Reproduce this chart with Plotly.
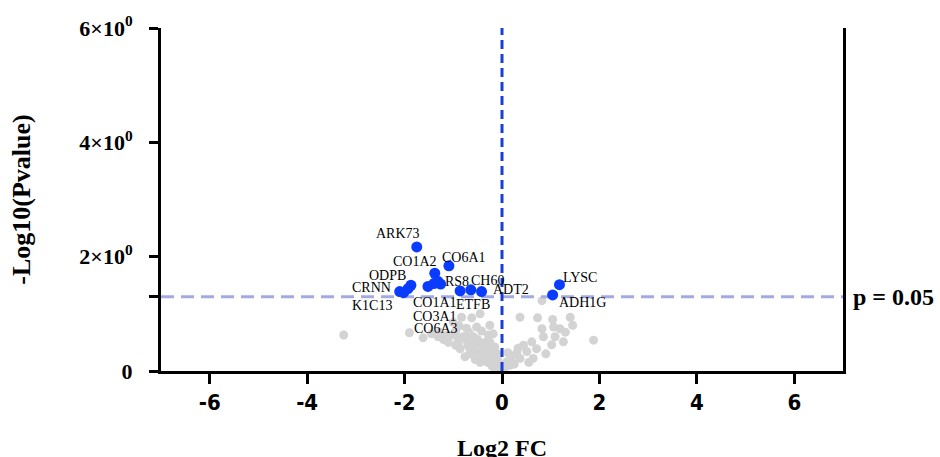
import plotly.graph_objects as go

# ---- data ----
sig_names = ["ARK73", "CO6A1", "CO1A2", "ODPB", "RS8", "CH60", "CRNN", "ADT2",
             "K1C13", "CO1A1", "ETFB", "CO3A1", "CO6A3", "LYSC", "ADH1G", ""]
sig_fc = [-1.75, -1.09, -1.38, -1.87, -1.26, -0.64, -2.10, -0.42,
          -2.02, -1.40, -0.86, -1.52, -1.32, 1.18, 1.04, -1.93]
sig_p = [2.17, 1.84, 1.71, 1.50, 1.52, 1.42, 1.39, 1.39,
         1.37, 1.53, 1.40, 1.48, 1.57, 1.51, 1.33, 1.44]
# label offsets (pixels) relative to their point
label_dx = [-19, 15, -20, -23, 16, 17, -28, 29, -32, 1, 13, 7, -2, 21, 30, 0]
label_dy = [13, 8, 12, 10, 3, 9, 4, 2, -13, -19, -14, -30, -47, 7, -8, 0]

ns_fc = [-3.25, -1.90, -1.62, -1.45, -1.31, -1.28, -1.20, -1.03, -0.95, -0.90,
         -0.88, -0.83, -0.73, -0.73, -0.66, -0.62, -0.59, -0.52, -0.52, -0.45,
         -0.45, -0.86, -0.76, -0.35, -0.31, -0.28, -0.25, -0.25, -0.18, -0.14,
         -0.14, -0.11, -0.04, 0.02, -0.60, -0.55, -0.65, -0.40, -0.38, -0.30,
         -0.20, -0.10, -0.95, -1.10, -0.80, -0.70, -0.50, -0.35, -0.20, -0.08,
         -0.45, -1.00, -0.25, -0.15, -1.15, -0.68, -0.42, -0.90, -0.58,
         0.82, 0.37, 0.73, 1.04, 1.40, 1.45, 1.06, 1.19, 1.30, 0.82,
         0.85, 1.09, 1.26, 1.02, 1.88, 0.61, 0.44, 0.71, 0.51, 0.30,
         0.20, 0.10, 0.64, 0.37, 0.16, 0.05, 0.25, 0.55, 0.90, 0.12, 0.33]
ns_p = [0.63, 0.67, 0.58, 0.65, 0.60, 0.68, 0.55, 0.63, 0.70, 0.57,
        0.79, 0.94, 0.75, 0.54, 0.39, 0.93, 0.60, 0.77, 0.34, 1.00,
        0.48, 0.39, 0.25, 0.31, 0.39, 0.63, 0.22, 0.51, 0.65, 0.13,
        0.25, 0.05, 0.10, 0.02, 0.45, 0.20, 0.30, 0.25, 0.40, 0.15,
        0.35, 0.30, 0.45, 0.50, 0.60, 0.45, 0.55, 0.50, 0.08, 0.18,
        0.15, 0.85, 0.80, 0.42, 0.62, 0.68, 0.70, 0.48, 0.35,
        1.23, 0.94, 0.93, 0.90, 0.94, 0.80, 0.77, 0.74, 0.68, 0.74,
        0.60, 0.60, 0.51, 0.46, 0.54, 0.51, 0.45, 0.39, 0.34, 0.31,
        0.25, 0.16, 0.22, 0.22, 0.10, 0.05, 0.12, 0.15, 0.30, 0.32, 0.40]

p_threshold = 1.301
x_range = [-7, 7]
y_range = [0, 6]
x_ticks = [-6, -4, -2, 0, 2, 4, 6]
x_ticktext = ["-6", "-4", "-2", "0", "2", "4", "6"]
y_tickvals = [0, p_threshold, 2, 4, 6]
y_ticktext = ["0", "", "2×10<sup>0</sup>", "4×10<sup>0</sup>", "6×10<sup>0</sup>"]

serif = "Liberation Serif, Times New Roman, serif"
sans = "DejaVu Sans Condensed, Liberation Sans Narrow, Arial, sans-serif"

fig = go.Figure()
fig.add_trace(go.Scatter(x=ns_fc, y=ns_p, mode="markers", cliponaxis=False,
                         marker=dict(color="#d3d3d3", size=9, line=dict(width=0)),
                         showlegend=False, hoverinfo="skip"))
fig.add_trace(go.Scatter(x=x_range, y=[p_threshold, p_threshold], mode="lines",
                         line=dict(color="#a3aae3", width=3, dash="13px,7px"),
                         showlegend=False, hoverinfo="skip"))
fig.add_trace(go.Scatter(x=[0, 0], y=y_range, mode="lines",
                         line=dict(color="#1a3fd8", width=3, dash="9px,5px"),
                         showlegend=False, hoverinfo="skip"))
fig.add_trace(go.Scatter(x=sig_fc, y=sig_p, mode="markers", cliponaxis=False,
                         marker=dict(color="#0a3cff", size=11, line=dict(width=0)),
                         showlegend=False))

for name, fx, py, dx, dy in zip(sig_names, sig_fc, sig_p, label_dx, label_dy):
    if not name:
        continue
    fig.add_annotation(x=fx, y=py, text=name, showarrow=False, xshift=dx, yshift=dy,
                       font=dict(family=serif, size=14, color="black"))

fig.add_annotation(xref="paper", yref="y", x=1.012, y=p_threshold, text="<b>p = 0.05</b>",
                   showarrow=False, xanchor="left", yanchor="middle",
                   font=dict(family=serif, size=24, color="black"))
fig.add_annotation(xref="paper", yref="paper", x=-0.205, y=0.5, text="<b>-Log10(Pvalue)</b>",
                   showarrow=False, textangle=-90, xanchor="center", yanchor="middle",
                   font=dict(family=serif, size=26, color="black"))
fig.add_annotation(xref="paper", yref="paper", x=0.5, y=-0.225, text="<b>Log2 FC</b>",
                   showarrow=False, xanchor="center", yanchor="middle",
                   font=dict(family=serif, size=24, color="black"))

fig.update_layout(
    width=940, height=457,
    margin=dict(l=161, r=97, t=25, b=86),
    paper_bgcolor="white", plot_bgcolor="white",
    xaxis=dict(range=x_range, tickvals=x_ticks, ticktext=x_ticktext, ticks="outside",
               ticklen=10, tickwidth=3,
               tickcolor="black", showline=True, linewidth=3, linecolor="black",
               showgrid=False, zeroline=False, ticklabelstandoff=0,
               tickfont=dict(family=sans, size=22, color="black", weight="bold")),
    yaxis=dict(range=y_range, tickvals=y_tickvals, ticktext=y_ticktext, ticks="outside",
               ticklen=9, tickwidth=3, tickcolor="black", showline=True, linewidth=3,
               linecolor="black", mirror=True, showgrid=False, zeroline=False,
               ticklabelstandoff=12,
               tickfont=dict(family=serif, size=22, color="black", weight="bold")),
)

fig.write_html("out.html")
